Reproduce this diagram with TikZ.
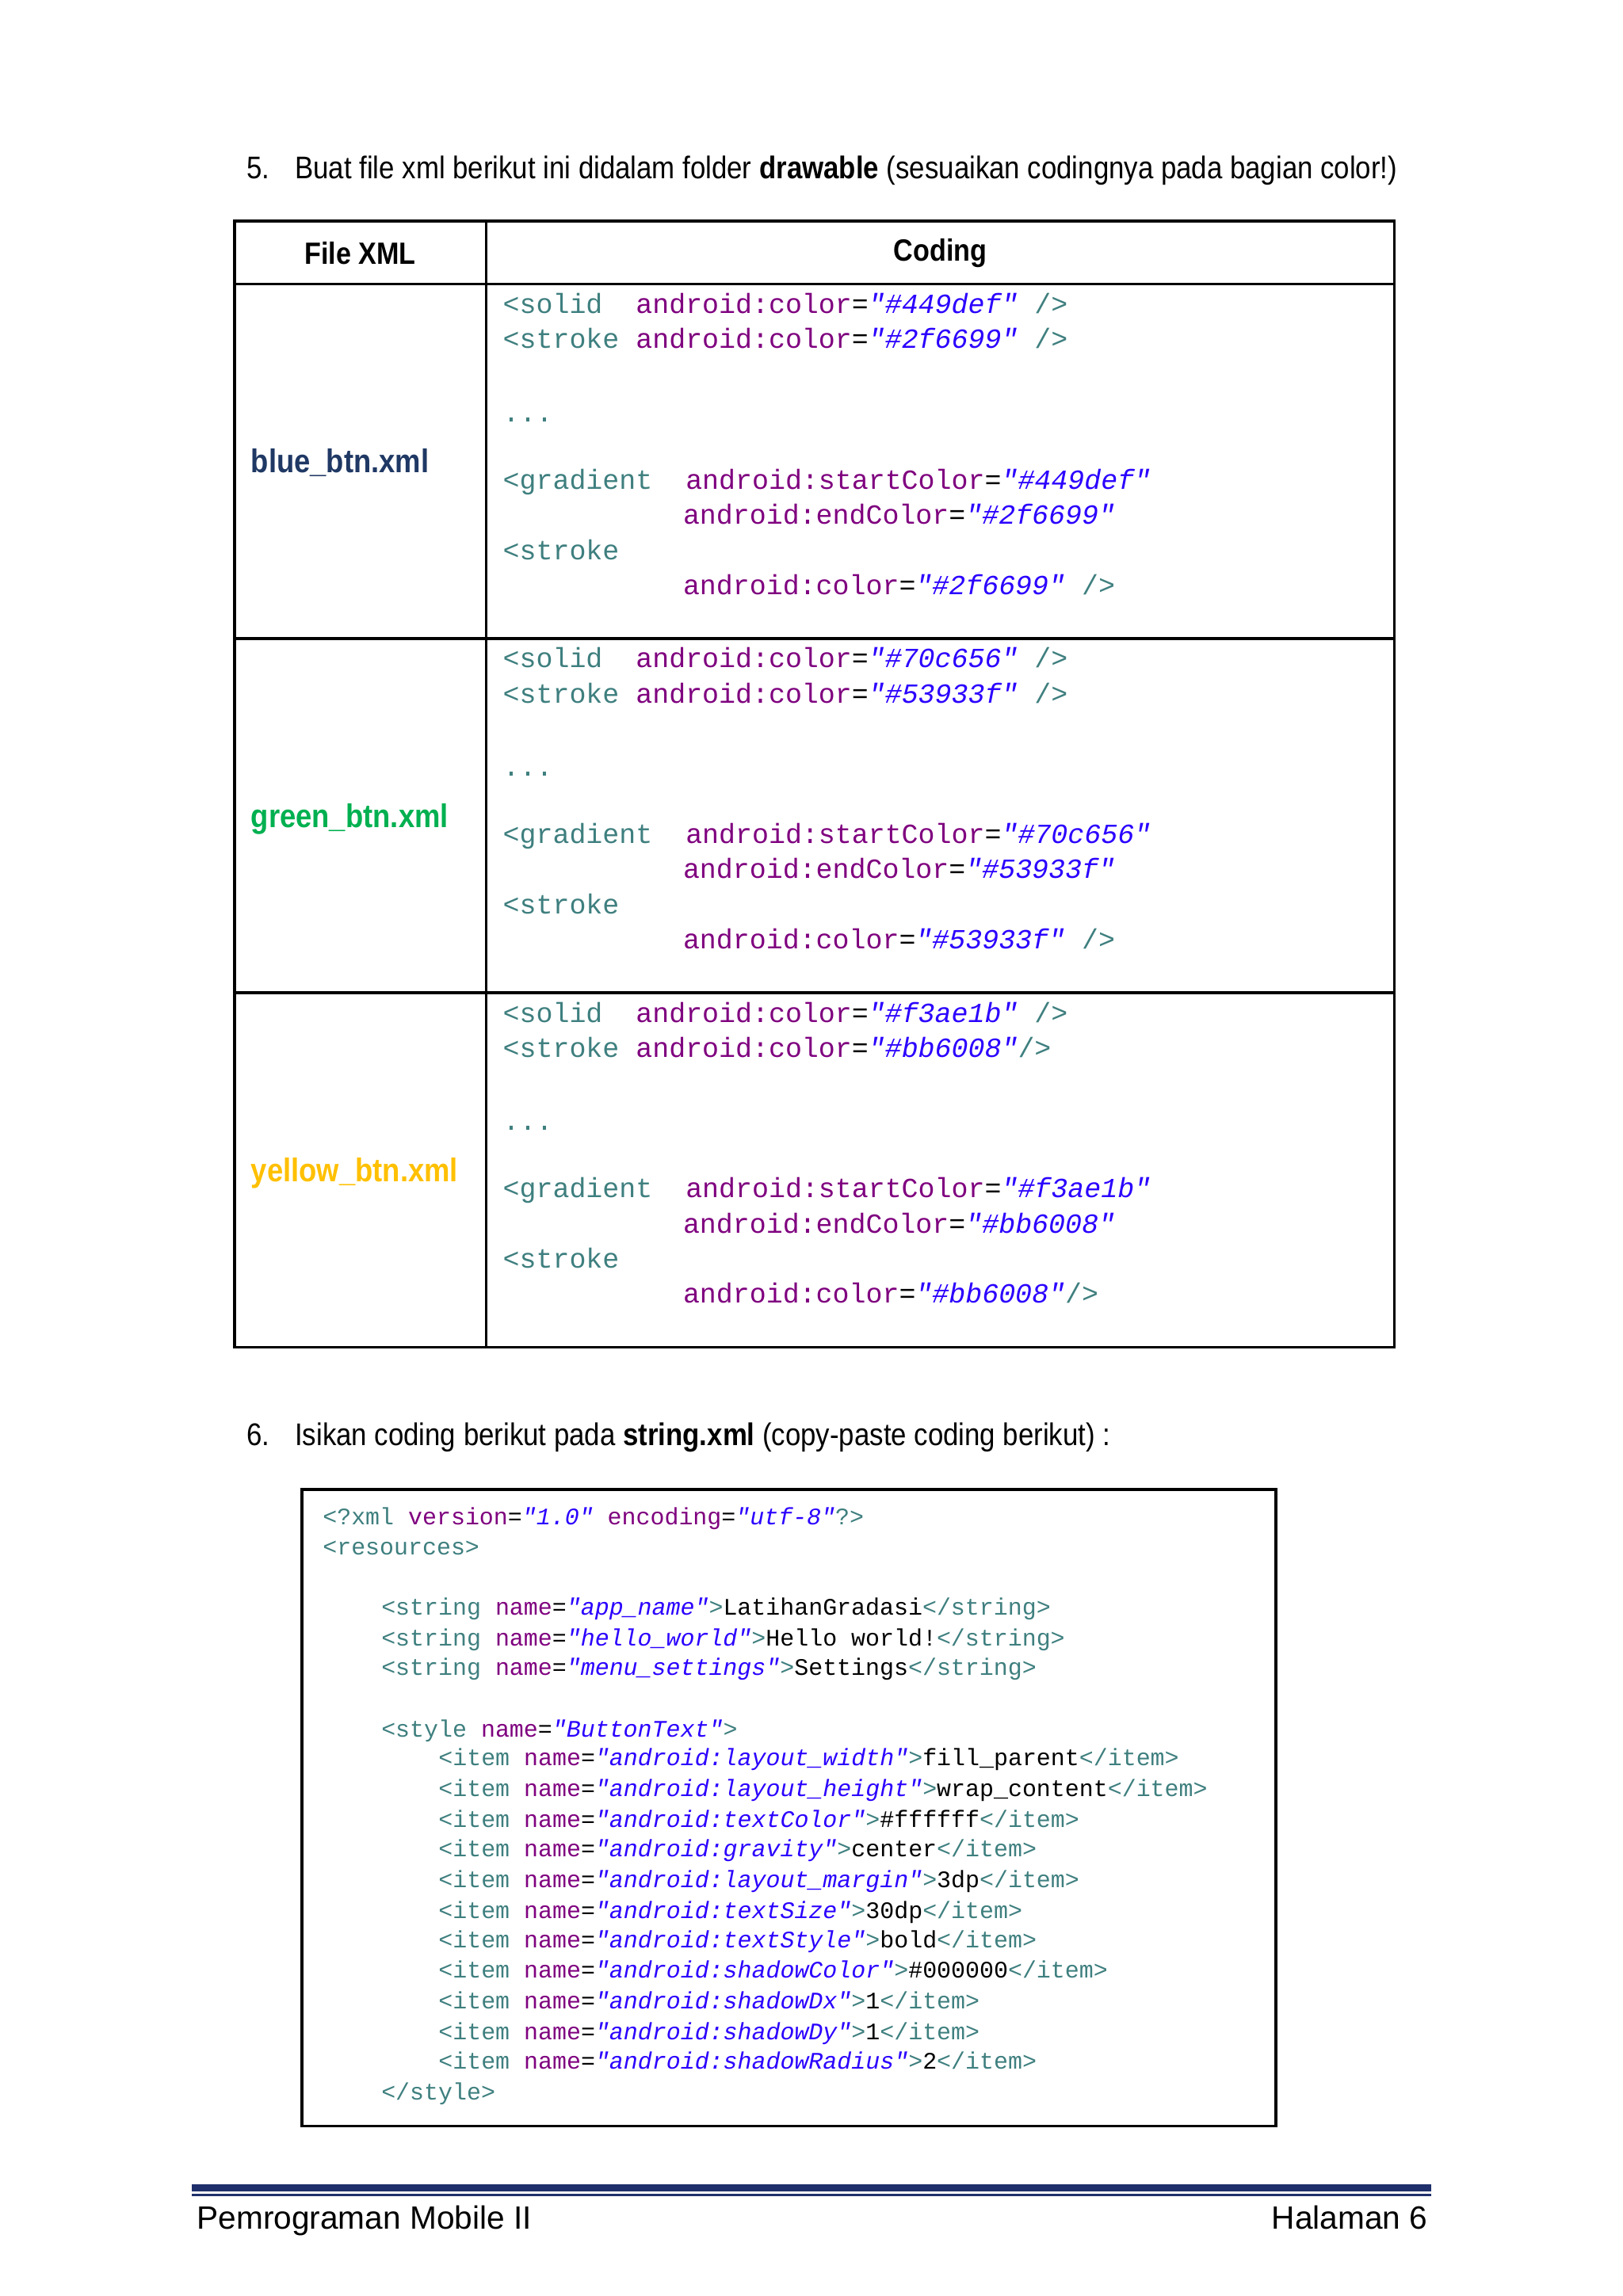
\documentclass[tikz,border=0pt]{standalone}
\usepackage{fontspec}
\setmainfont{Liberation Sans}
\setmonofont{Liberation Mono}
\newfontfamily\nar[FakeStretch=0.88]{Liberation Sans}
\definecolor{tagc}{HTML}{3F7F7F}
\definecolor{attc}{HTML}{7F007F}
\definecolor{valc}{HTML}{2A00FF}
\definecolor{bluel}{HTML}{1F3864}
\definecolor{greenl}{HTML}{00B050}
\definecolor{yell}{HTML}{FFC000}
\definecolor{navy}{HTML}{1F2F6B}
\newcommand\tg[1]{\textcolor{tagc}{#1}}
\newcommand\at[1]{\textcolor{attc}{#1}}
\newcommand\vl[1]{\textcolor{valc}{\itshape #1}}
\newcommand\cfA{\ttfamily\fontsize{9.45}{10}\selectfont}
\newcommand\cfB{\ttfamily\fontsize{8.1}{9}\selectfont}
\begin{document}
\begin{tikzpicture}[x=0.5pt,y=-0.5pt,
  ca/.style={anchor=base west,inner sep=0,font=\cfA},
  cb/.style={anchor=base west,inner sep=0,font=\cfB},
  txt/.style={anchor=base west,inner sep=0,font=\nar\fontsize{10.7}{12}\selectfont},
  lbl/.style={anchor=base west,inner sep=0,font=\nar\bfseries\fontsize{11.2}{12}\selectfont},
  hd/.style={inner sep=0,font=\nar\bfseries\fontsize{10.5}{12}\selectfont},
  grid/.style={line width=1pt,black}]
\useasboundingbox (0,0) rectangle (1108,1568);
\fill[white] (0,0) rectangle (1108,1568);
% item 5
\node[txt] (n5) at (168,122) {5.};
\node[txt] (t5) at (201,122) {Buat file xml berikut ini didalam folder \textbf{drawable} (sesuaikan codingnya pada bagian color!)};
% table
\draw[grid] (160,151) rectangle (952,920);
\draw[grid] (332,151) -- (332,920);
\draw[grid] (160,194) -- (952,194);
\draw[grid] (160,436) -- (952,436);
\draw[grid] (160,678) -- (952,678);
\node[hd] (h1) at (246,173) {File XML};
\node[hd] (h2) at (642,173) {Coding};
\node[lbl,text=bluel] (l1) at (171,323) {blue\_btn.xml};
\node[lbl,text=greenl] (l2) at (171,565) {green\_btn.xml};
\node[lbl,text=yell] (l3) at (171,807) {yellow\_btn.xml};
% row 1
\node[ca] (a1) at (343,214) {\tg{<solid}~~\at{android:color}=\vl{"\#449def"}\tg{~/>}};
\node[ca] (a2) at (343,238) {\tg{<stroke}~\at{android:color}=\vl{"\#2f6699"}\tg{~/>}};
\node[ca] (a3) at (343,288) {\tg{...}};
\node[ca] (a4) at (343,334) {\tg{<gradient}~~\at{android:startColor}=\vl{"\#449def"}};
\node[ca] (a5) at (466,358) {\at{android:endColor}=\vl{"\#2f6699"}};
\node[ca] (a6) at (343,382) {\tg{<stroke}};
\node[ca] (a7) at (466,406) {\at{android:color}=\vl{"\#2f6699"}\tg{~/>}};
% row 2
\node[ca] (b1) at (343,456) {\tg{<solid}~~\at{android:color}=\vl{"\#70c656"}\tg{~/>}};
\node[ca] (b2) at (343,480) {\tg{<stroke}~\at{android:color}=\vl{"\#53933f"}\tg{~/>}};
\node[ca] (b3) at (343,530) {\tg{...}};
\node[ca] (b4) at (343,576) {\tg{<gradient}~~\at{android:startColor}=\vl{"\#70c656"}};
\node[ca] (b5) at (466,600) {\at{android:endColor}=\vl{"\#53933f"}};
\node[ca] (b6) at (343,624) {\tg{<stroke}};
\node[ca] (b7) at (466,648) {\at{android:color}=\vl{"\#53933f"}\tg{~/>}};
% row 3
\node[ca] (c1) at (343,698) {\tg{<solid}~~\at{android:color}=\vl{"\#f3ae1b"}\tg{~/>}};
\node[ca] (c2) at (343,722) {\tg{<stroke}~\at{android:color}=\vl{"\#bb6008"}\tg{/>}};
\node[ca] (c3) at (343,772) {\tg{...}};
\node[ca] (c4) at (343,818) {\tg{<gradient}~~\at{android:startColor}=\vl{"\#f3ae1b"}};
\node[ca] (c5) at (466,842) {\at{android:endColor}=\vl{"\#bb6008"}};
\node[ca] (c6) at (343,866) {\tg{<stroke}};
\node[ca] (c7) at (466,890) {\at{android:color}=\vl{"\#bb6008"}\tg{/>}};
% item 6
\node[txt] (n6) at (168,987) {6.};
\node[txt] (t6) at (201,987) {Isikan coding berikut pada \textbf{string.xml} (copy-paste coding berikut) :};
\draw[grid] (206,1017) rectangle (871,1452);
\node[cb] (d1) at (220,1041) {\tg{<?xml}~\at{version}=\vl{"1.0"}~\at{encoding}=\vl{"utf-8"}\tg{?>}};
\node[cb] (d2) at (220,1062) {\tg{<resources>}};
\node[cb] (d3) at (260,1103) {\tg{<string}~\at{name}=\vl{"app\_name"}\tg{>}LatihanGradasi\tg{</string>}};
\node[cb] (d4) at (260,1124) {\tg{<string}~\at{name}=\vl{"hello\_world"}\tg{>}Hello~world!\tg{</string>}};
\node[cb] (d5) at (260,1144) {\tg{<string}~\at{name}=\vl{"menu\_settings"}\tg{>}Settings\tg{</string>}};
\node[cb] (d6) at (260,1186) {\tg{<style}~\at{name}=\vl{"ButtonText"}\tg{>}};
\node[cb] (e1) at (299,1206) {\tg{<item}~\at{name}=\vl{"android:layout\_width"}\tg{>}fill\_parent\tg{</item>}};
\node[cb] (e2) at (299,1227) {\tg{<item}~\at{name}=\vl{"android:layout\_height"}\tg{>}wrap\_content\tg{</item>}};
\node[cb] (e3) at (299,1248) {\tg{<item}~\at{name}=\vl{"android:textColor"}\tg{>}\#ffffff\tg{</item>}};
\node[cb] (e4) at (299,1268) {\tg{<item}~\at{name}=\vl{"android:gravity"}\tg{>}center\tg{</item>}};
\node[cb] (e5) at (299,1289) {\tg{<item}~\at{name}=\vl{"android:layout\_margin"}\tg{>}3dp\tg{</item>}};
\node[cb] (e6) at (299,1310) {\tg{<item}~\at{name}=\vl{"android:textSize"}\tg{>}30dp\tg{</item>}};
\node[cb] (e7) at (299,1330) {\tg{<item}~\at{name}=\vl{"android:textStyle"}\tg{>}bold\tg{</item>}};
\node[cb] (e8) at (299,1351) {\tg{<item}~\at{name}=\vl{"android:shadowColor"}\tg{>}\#000000\tg{</item>}};
\node[cb] (e9) at (299,1372) {\tg{<item}~\at{name}=\vl{"android:shadowDx"}\tg{>}1\tg{</item>}};
\node[cb] (e10) at (299,1393) {\tg{<item}~\at{name}=\vl{"android:shadowDy"}\tg{>}1\tg{</item>}};
\node[cb] (e11) at (299,1413) {\tg{<item}~\at{name}=\vl{"android:shadowRadius"}\tg{>}2\tg{</item>}};
\node[cb] (d7) at (260,1434) {\tg{</style>}};
% footer
\draw[navy,line width=2.5pt] (131,1494) -- (977,1494);
\draw[navy,line width=0.6pt] (131,1499) -- (977,1499);
\node[anchor=base west,inner sep=0,font=\fontsize{11}{12}\selectfont] (f1) at (134,1522) {Pemrograman Mobile II};
\node[anchor=base east,inner sep=0,font=\fontsize{11}{12}\selectfont] (f2) at (975,1522) {Halaman 6};
\end{tikzpicture}
\end{document}
